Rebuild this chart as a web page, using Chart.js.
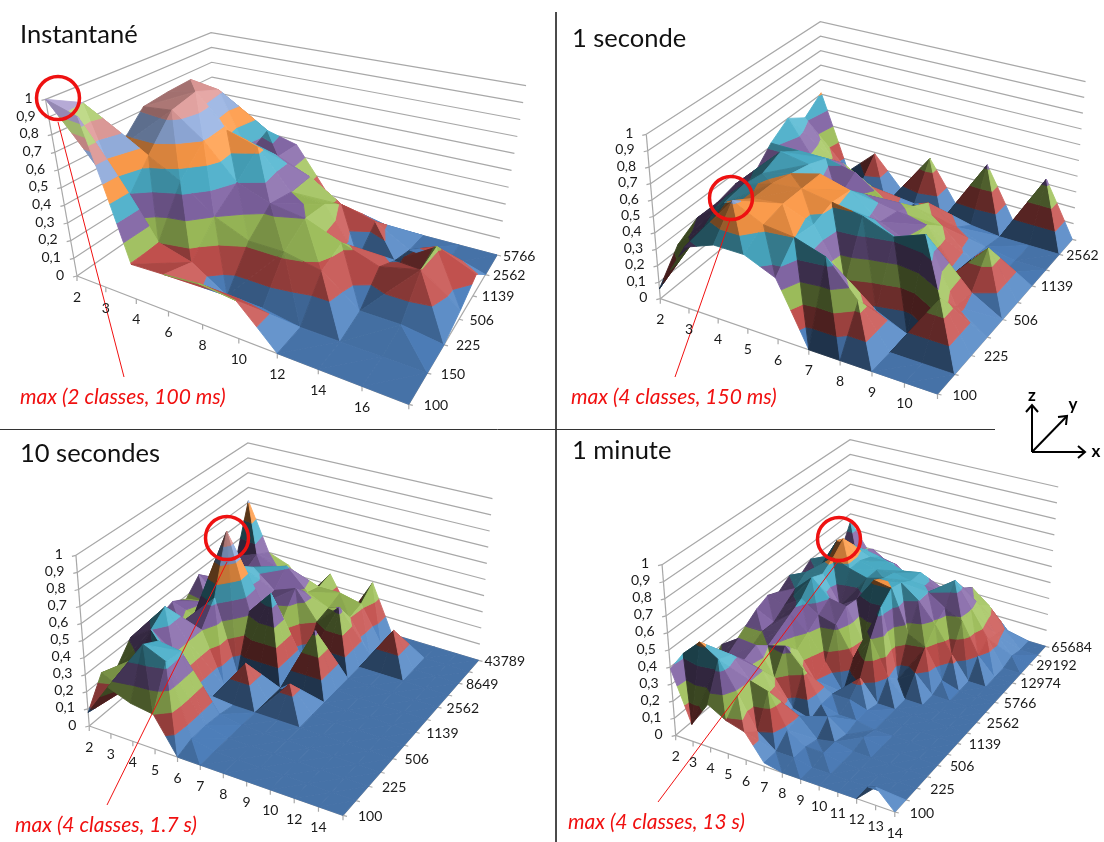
<!DOCTYPE html><html><head><meta charset="utf-8"><style>html,body{margin:0;background:#fff}canvas{display:block}#w{width:1104px;height:842px;position:relative;overflow:hidden}</style>
<script src="https://cdn.jsdelivr.net/npm/chart.js@4"></script></head><body><div id="w"><canvas id="c"></canvas></div>
<script>
// ---------- data ----------
const zTicks=['0','0,1','0,2','0,3','0,4','0,5','0,6','0,7','0,8','0,9','1'];
const zLevels=[0,.1,.2,.3,.4,.5,.6,.7,.8,.9,1];
const x1=['2','3','4','6','8','10','12','14','16',''];
const y1=['100','150','225','506','1139','2562','5766'];
const z1=[
[1.0,.95,.19,.20,.22,.20,0,0,0,0],
[.90,.35,.20,.15,.03,.03,0,0,0,0],
[.55,.55,.45,.30,.22,.22,.18,.03,.03,0],
[.72,.74,.60,.40,.33,.30,.22,.15,.20,.05],
[.74,.78,.58,.52,.30,.28,.02,.07,.21,.12],
[.75,.72,.35,.38,.30,.18,.13,.02,0,0],
[.45,.35,.42,.37,.12,0,0,0,0,0]];
const x2=['2','3','4','5','6','7','8','9','10',''];
const y2=['100','','225','','506','','1139','','2562',''];
const z2=[
[.06,.37,.44,.44,.36,0,0,0,0,0],
[.23,.40,.61,.52,.50,.44,.24,0,0,0],
[.30,.45,.53,.55,.48,.18,.08,0,.27,0],
[.30,.47,.53,.55,.52,.49,.42,.49,.12,0],
[.33,.45,.50,.55,.50,.36,.28,.10,.10,0],
[.30,.50,.47,.30,.38,.33,.30,.07,.27,0],
[.42,.42,.42,.38,.26,.27,.20,.05,.02,0],
[.50,.25,.30,.20,.08,.20,.10,.03,0,0],
[.42,.20,.05,0,.05,0,.02,0,0,0],
[.51,.02,.19,0,.26,0,.32,0,.33,0]];
const x3=['2','3','4','5','6','7','8','9','10','12','14',''];
const y3=['100','','225','','506','','1139','','2562','','8649','','43789'];
const z3=[
[.08,.27,.22,.20,0,0,0,0,0,0,0,0],
[.24,.18,.49,.43,.03,0,0,0,0,0,0,0],
[.20,.30,.44,.42,.03,0,0,0,0,0,0,0],
[.31,.40,.30,.12,.02,0,0,0,0,0,0,0],
[.30,.47,.30,0,0,0,0,0,0,0,0,0],
[.30,.30,.30,0,.18,0,.14,0,0,0,0,0],
[.33,.28,.43,0,0,0,0,0,0,0,0,0],
[.28,.30,.78,.32,.47,0,.32,0,0,0,0,0],
[.37,.25,.50,.30,.25,0,0,0,0,0,0,0],
[.20,.30,.43,.32,.37,.20,.33,0,0,0,0,0],
[.25,.30,.30,.41,.28,.22,.20,0,.20,0,0,0],
[.30,.35,.30,.25,.25,.25,.22,0,0,0,0,0],
[.61,.30,.25,.10,.27,.05,.29,0,0,0,0,0]];
const x4=['2','3','4','5','6','7','8','9','10','11','12','13','14'];
const y4=['100','','225','','506','','1139','','2562','','5766','','12974','','29192','','65684'];
const z4=[
[.39,.10,.25,.19,.16,.02,0,0,0,0,0,.10,0],
[.42,.52,.45,.28,.10,.02,.02,0,0,0,0,0,0],
[.40,.42,.42,.30,.27,.08,.02,.02,0,0,0,0,0],
[.25,.32,.33,.30,.08,.10,0,.02,0,0,0,0,0],
[.30,.37,.36,.20,.05,.02,.07,0,.02,0,0,0,0],
[.25,.26,.30,.33,.22,.05,.02,.02,0,0,0,0,0],
[.30,.30,.34,.25,.10,.05,.05,.02,0,0,0,0,0],
[.35,.30,.38,.30,.15,0,.12,0,0,0,0,0,0],
[.38,.35,.42,.35,.32,.15,.30,.10,0,0,0,0,0],
[.35,.40,.50,.40,.38,.18,.44,.03,.10,0,0,0,0],
[.40,.45,.47,.30,.37,.52,.50,.25,.20,.03,0,0,0],
[.35,.40,.52,.48,.45,.48,.48,.40,.28,.13,0,0,0],
[.40,.45,.59,.48,.45,.46,.44,.40,.33,.28,.10,0,0],
[.30,.50,.50,.45,.45,.42,.44,.36,.45,.30,.15,0,0],
[.35,.30,.42,.40,.38,.30,.30,.30,.35,.27,.12,.02,0],
[.30,.30,.37,.30,.24,.18,.20,.25,.30,.22,.10,0,0],
[.45,.30,.20,.20,.20,.10,.10,.05,0,0,0,0,0]];
const bandColors=['#4F81BD','#C0504D','#9BBB59','#8064A2','#4BACC6','#F79646','#8FA9D8','#D99694','#B3CF7A','#A99CCB'];
const titles=['Instantané','1 seconde','10 secondes','1 minute'];
const notes=['max (2 classes, 100 ms)','max (4 classes, 150 ms)','max (4 classes, 1.7 s)','max (4 classes, 13 s)'];
// ---------- layout ----------
const SX=.35,SY=1/3;
const panels=[
{xs:x1,ys:y1,z:z1,o:[0,10],fl:[220,798],fr:[1168,1183],br:[1420,735],bl:[612,512],tfl:[130,268],tfr:[1233,589],tbr:[1503,227],tbl:[603,68],
 title:[20,35],note:[20,397],ring:[58,98],lead:[[58,122],[124,377]]},
{xs:x2,ys:y2,z:z2,o:[556,10],fl:[298,866],fr:[1090,1152],br:[1475,688],bl:[760,470],tfl:[258,373],tfr:[1106,621],tbr:[1513,215],tbl:[755,35],
 title:[572,39],note:[571,397],ring:[731,198],lead:[[730,220],[675,377]]},
{xs:x3,ys:y3,z:z3,o:[0,432],fl:[255,882],fr:[980,1150],br:[1367,685],bl:[712,478],tfl:[217,370],tfr:[996,598],tbr:[1407,200],tbl:[708,33],
 title:[20,454],note:[15,825],ring:[227,538],lead:[[227,562],[107,805]]},
{xs:x4,ys:y4,z:z4,o:[556,432],fl:[342,910],fr:[968,1140],br:[1398,643],bl:[843,468],tfl:[303,398],tfr:[977,595],tbr:[1435,165],tbl:[840,23],
 title:[572,451],note:[568,822],ring:[839,539],lead:[[839,560],[658,802]]}];
function hom(a,b,c,d){const dx1=b[0]-c[0],dx2=d[0]-c[0],sx=a[0]-b[0]+c[0]-d[0],dy1=b[1]-c[1],dy2=d[1]-c[1],sy=a[1]-b[1]+c[1]-d[1];const den=dx1*dy2-dx2*dy1;const g=(sx*dy2-dx2*sy)/den,h=(dx1*sy-sx*dy1)/den;const A=b[0]-a[0]+g*b[0],B=d[0]-a[0]+h*d[0],C=a[0],D=b[1]-a[1]+g*b[1],E=d[1]-a[1]+h*d[1],F=a[1];return(u,v)=>{const w=g*u+h*v+1;return[(A*u+B*v+C)/w,(D*u+E*v+F)/w]}}
function shade(hex,b){const n=parseInt(hex.slice(1),16);let r=n>>16,g=n>>8&255,bl=n&255;const f=c=>b<=1?Math.round(c*b):Math.round(Math.min(255,c+(255-c)*(b-1)*.9+c*(b-1)*.3));return`rgb(${f(r)},${f(g)},${f(bl)})`}
const paint=[],texts=[];
const GRID='#A8A8A8';
function line(pts,color,w){paint.push({data:pts.map(p=>({x:p[0],y:p[1]})),showLine:true,borderColor:color,borderWidth:w,pointRadius:0,fill:false,tension:0})}
function clip(poly,k,keepAbove){const out=[];for(let a=0;a<poly.length;a++){const p=poly[a],q=poly[(a+1)%poly.length];const pi=keepAbove?p[2]>=k:p[2]<=k,qi=keepAbove?q[2]>=k:q[2]<=k;if(pi)out.push(p);if(pi!==qi){const t=(k-p[2])/(q[2]-p[2]);out.push([p[0]+t*(q[0]-p[0]),p[1]+t*(q[1]-p[1]),k])}}return out}
const L=[.72,.3,.62];
for(const P of panels){
 const nx=P.xs.length,ny=P.ys.length,Z=P.z;
 const Hf=hom(P.fl,P.fr,P.br,P.bl),Ht=hom(P.tfl,P.tfr,P.tbr,P.tbl);
 const proj=(i,j,z)=>{const u=i/(nx-1),v=j/(ny-1),a=Hf(u,v),b=Ht(u,v);return[P.o[0]+(a[0]+(b[0]-a[0])*z)*SX,P.o[1]+(a[1]+(b[1]-a[1])*z)*SY]};
 for(const lv of zLevels){line([proj(0,0,lv),proj(0,ny-1,lv),proj(nx-1,ny-1,lv)],GRID,1.2)}
 line([proj(0,0,0),proj(0,0,1)],GRID,1.2);
 line([proj(0,0,0),proj(nx-1,0,0)],GRID,1.2);
 line([proj(nx-1,0,0),proj(nx-1,ny-1,0)],GRID,1.2);
 zLevels.forEach((lv,k)=>{const p=proj(0,0,lv);line([p,[p[0]-4,p[1]+1]],GRID,1.2);texts.push({t:zTicks[k],x:p[0]-13,y:p[1]-1,a:'right',f:'14px Lato',c:'#1a1a1a'})});
 P.xs.forEach((l,i)=>{const p=proj(i,0,0);line([p,[p[0],p[1]+5]],GRID,1.2);if(l)texts.push({t:l,x:p[0],y:p[1]+21,a:'center',f:'14px Lato',c:'#1a1a1a'})});
 P.ys.forEach((l,j)=>{const p=proj(nx-1,j,0);line([p,[p[0]+4,p[1]+1]],GRID,1.2);if(l)texts.push({t:l,x:p[0]+15-9*j/(ny-1),y:p[1]+1,a:'left',f:'14px Lato',c:'#1a1a1a'})});
 const WH=1.7,cx=WH/(nx-1),cy=WH/(ny-1);
 for(let i=0;i<nx-1;i++)for(let j=ny-2;j>=0;j--){
  const a=[i,j,Z[j][i]],b=[i+1,j,Z[j][i+1]],c=[i+1,j+1,Z[j+1][i+1]],d=[i,j+1,Z[j+1][i]];
  let tris=Math.abs(a[2]-c[2])>=Math.abs(b[2]-d[2])?[[a,b,c],[a,c,d]]:[[a,b,d],[b,c,d]];
  const key=t=>(t[0][0]+t[1][0]+t[2][0])-(t[0][1]+t[1][1]+t[2][1]);
  tris.sort((s,t)=>key(s)-key(t));
  for(const t of tris){
   const ux=(t[1][0]-t[0][0])*cx,uy=(t[1][1]-t[0][1])*cy,uz=t[1][2]-t[0][2],vx=(t[2][0]-t[0][0])*cx,vy=(t[2][1]-t[0][1])*cy,vz=t[2][2]-t[0][2];
   let nxx=uy*vz-uz*vy,nyy=uz*vx-ux*vz,nzz=ux*vy-uy*vx;const m=Math.hypot(nxx,nyy,nzz);nxx/=m;nyy/=m;nzz/=m;if(nzz<0){nxx=-nxx;nyy=-nyy;nzz=-nzz}
   const br=Math.max(.36,.42+.75*(nxx*L[0]+nyy*L[1]+nzz*L[2]));
   const lo=Math.min(t[0][2],t[1][2],t[2][2]),hi=Math.max(t[0][2],t[1][2],t[2][2]);
   for(let k=Math.min(9,Math.floor(lo*10+1e-9));k<10&&k/10<hi+1e-9;k++){
    let poly=clip(clip(t,k/10,true),(k+1)/10,false);
    if(poly.length<3)continue;
    const pts=poly.map(p=>proj(p[0],p[1],p[2]));pts.push(pts[0]);
    const col=shade(bandColors[k],br);
    paint.push({data:pts.map(p=>({x:p[0],y:p[1]})),showLine:true,borderColor:col,borderWidth:.9,backgroundColor:col,fill:'shape',pointRadius:0,tension:0});
   }
  }
 }
}
panels.forEach((P,n)=>{
 line(P.lead,'#F01010',1);
 paint.push({data:[{x:P.ring[0],y:P.ring[1]}],showLine:false,pointRadius:21.5,pointBorderWidth:3.5,pointBorderColor:'#EE1111',pointBackgroundColor:'rgba(0,0,0,0)',pointHoverRadius:21.5});
 texts.push({t:titles[n],x:P.title[0],y:P.title[1],a:'left',f:'25.5px Lato',c:'#111'});
 texts.push({t:notes[n],x:P.note[0],y:P.note[1],a:'left',f:'italic 21px Lato',c:'#F01010'});
});
line([[556,12],[556,842]],'#333',1);
line([[0,429.5],[995,429.5]],'#333',1);
const key=[[[1032,452],[1032,405]],[[1026,412],[1032,405],[1038,412]],[[1032,452],[1067,416]],[[1058,417],[1067,416],[1066,425]],[[1032,452],[1085,452]],[[1078,446],[1085,452],[1078,458]]];
key.forEach(k=>line(k,'#000',2));
texts.push({t:'z',x:1032,y:396,a:'center',f:'bold 17px Lato',c:'#000'});
texts.push({t:'y',x:1073,y:405,a:'center',f:'bold 17px Lato',c:'#000'});
texts.push({t:'x',x:1096,y:452,a:'center',f:'bold 17px Lato',c:'#000'});
const datasets=paint.slice().reverse();
new Chart(document.getElementById('c'),{type:'scatter',data:{datasets},options:{animation:false,responsive:true,maintainAspectRatio:false,layout:{padding:0,autoPadding:false},events:[],plugins:{legend:{display:false},tooltip:{enabled:false}},scales:{x:{display:false,min:0,max:1104},y:{display:false,min:0,max:842,reverse:true}}},plugins:[{id:'labels',afterDraw(c){const x=c.ctx;x.save();x.textBaseline='middle';for(const t of texts){x.font=t.f;x.textAlign=t.a;x.fillStyle=t.c;x.fillText(t.t,c.scales.x.getPixelForValue(t.x),c.scales.y.getPixelForValue(t.y))}x.restore()}}]});
</script></body></html>
